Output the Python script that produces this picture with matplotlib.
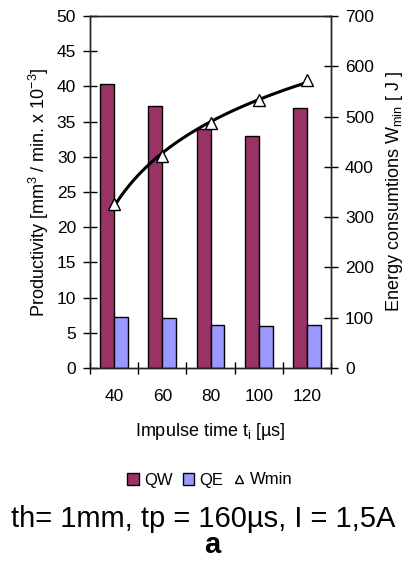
import numpy as np
import matplotlib
matplotlib.use("Agg")
import matplotlib.pyplot as plt
from matplotlib.patches import Patch
from matplotlib.lines import Line2D

plt.rcParams['font.family'] = ['Liberation Sans', 'DejaVu Sans']

categories = ["40", "60", "80", "100", "120"]
qw = [40.4, 37.2, 33.9, 32.9, 36.9]
qe = [7.3, 7.15, 6.1, 5.95, 6.1]
wmin = [326, 421, 487, 533, 573]

fig = plt.figure(figsize=(4.06, 5.63), dpi=100)
ax = fig.add_axes([90/406, 1-368/563, 241/406, 352/563])
x = np.arange(len(categories))
bw = 0.29
ax.bar(x - bw/2, qw, bw, color='#993366', edgecolor='black', linewidth=1, zorder=2)
ax.bar(x + bw/2, qe, bw, color='#9999FF', edgecolor='black', linewidth=1, zorder=2)
ax.set_xlim(-0.5, len(categories) - 0.5)
ax.set_ylim(0, 50)
ax.set_yticks(np.arange(0, 51, 5))
ax.set_xticks(np.arange(-0.5, len(categories), 1))
ax.set_xticklabels([])
ax.set_xticks(x, minor=True)
ax.set_xticklabels(categories, minor=True)
ax.tick_params(axis='x', which='major', direction='inout', length=8, width=1)
ax.tick_params(axis='x', which='minor', length=0, labelsize=12.5, pad=15)
ax.tick_params(axis='y', direction='inout', length=10, width=1, labelsize=12.5, pad=5)
ax.set_xlabel("Impulse time t$_\\mathregular{i}$ [µs]", fontsize=13, labelpad=12)
ax.set_ylabel("Productivity [mm$^\\mathregular{3}$ / min. x 10$^\\mathregular{-3}$]", fontsize=13, labelpad=4)
for s in ax.spines.values():
    s.set_linewidth(1)
    s.set_color('#222222')

ax2 = ax.twinx()
ax2.set_ylim(0, 700)
ax2.set_yticks(np.arange(0, 701, 100))
ax2.tick_params(axis='y', direction='inout', length=10, width=1, labelsize=12.5, pad=5)
coef = np.polyfit(np.log(x + 1), wmin, 1)
xs = np.linspace(0, len(categories) - 1, 100)
ax2.plot(xs, np.polyval(coef, np.log(xs + 1)), color='black', lw=2.2, zorder=3)
ax2.plot(x, wmin, linestyle='none', marker='^', markersize=8, markerfacecolor='white',
         markeredgecolor='black', markeredgewidth=1, zorder=4)
ax2.set_ylabel("Energy consumtions W$_\\mathregular{min}$ [ J ]", fontsize=13, labelpad=7)
for s in ax2.spines.values():
    s.set_linewidth(1)
    s.set_color('#222222')

handles = [Patch(facecolor='#993366', edgecolor='black', label='QW'),
           Patch(facecolor='#9999FF', edgecolor='black', label='QE'),
           Line2D([], [], linestyle='none', marker='^', markersize=6, markerfacecolor='white',
                  markeredgecolor='black', label='Wmin')]
fig.legend(handles=handles, loc='center', bbox_to_anchor=(210/406, 1-480/563), ncol=3,
           frameon=False, fontsize=12, handlelength=0.7, handleheight=0.7,
           handletextpad=0.3, columnspacing=0.6)

fig.text(203/406, 1-527/563, "th= 1mm, tp = 160µs, I = 1,5A", ha='center', va='baseline', fontsize=21)
fig.text(212/406, 1-553/563, "a", ha='center', va='baseline', fontsize=21, fontweight='bold')

fig.savefig("out.png", dpi=100)
